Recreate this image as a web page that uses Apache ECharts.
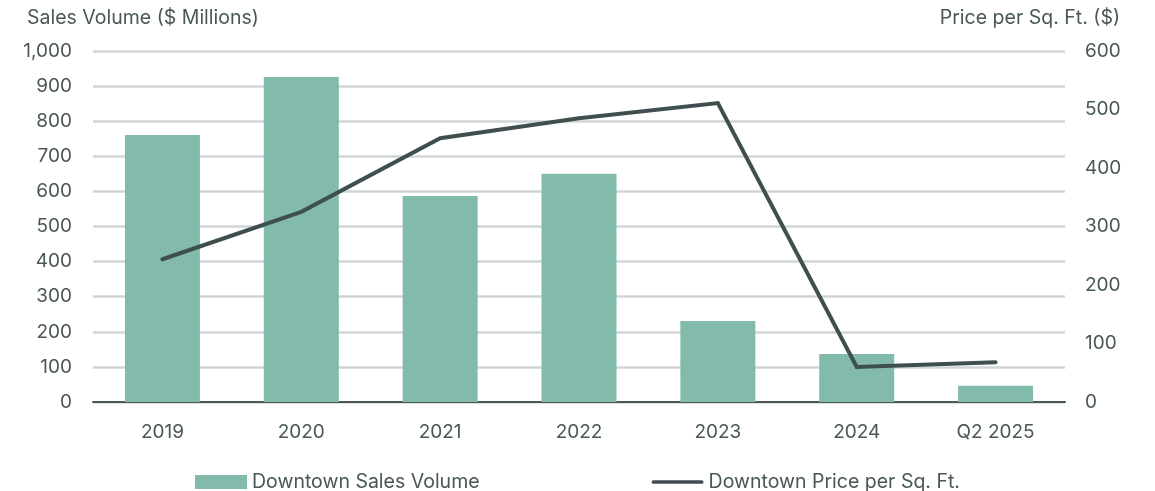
<!DOCTYPE html>
<html>
<head>
<meta charset="utf-8">
<script src="https://cdn.jsdelivr.net/npm/echarts@6/dist/echarts.min.js"></script>
<style>html,body{margin:0;padding:0;background:#fff}#c{width:1155px;height:491px}</style>
</head>
<body>
<div id="c"></div>
<script>
const categories = ['2019','2020','2021','2022','2023','2024','Q2 2025'];
const salesVolume = [761, 926, 587, 650, 231, 137, 46];
const pricePerSqFt = [244, 325, 451, 485, 511, 60, 68];
const leftTicks = [0, 1000, 100];
const rightTicks = [0, 600, 100];

const txt = '#4a5757';
const font = 'Inter';
const chart = echarts.init(document.getElementById('c'));
chart.setOption({
  animation: false,
  textStyle: { fontFamily: font, color: txt },
  grid: { left: 93, right: 90, top: 51, bottom: 89, containLabel: false },
  graphic: [
    { type: 'text', left: 27, top: 8, style: { text: 'Sales Volume ($ Millions)', fontSize: 19.5, fill: txt, fontFamily: font } },
    { type: 'text', right: 35, top: 8, style: { text: 'Price per Sq. Ft. ($)', fontSize: 19.5, fill: txt, fontFamily: font } }
  ],
  legend: {
    top: 467, left: 'center', itemGap: 172, itemWidth: 52, itemHeight: 14,
    textStyle: { fontSize: 19.5, color: txt, fontFamily: font },
    data: [
      { name: 'Downtown Sales Volume', icon: 'rect' },
      { name: 'Downtown Price per Sq. Ft.',
        icon: 'path://M2,0 L54,0 A2,2 0 0 1 54,4 L2,4 A2,2 0 0 1 2,0 Z',
        itemStyle: { color: '#3f4f50' } }
    ]
  },
  xAxis: {
    type: 'category', data: categories,
    axisLine: { lineStyle: { color: '#4a5858', width: 2 } },
    axisTick: { show: false },
    axisLabel: { fontSize: 19, color: txt, margin: 21, fontFamily: font }
  },
  yAxis: [
    {
      type: 'value', min: leftTicks[0], max: leftTicks[1], interval: leftTicks[2],
      axisLine: { show: false }, axisTick: { show: false },
      splitLine: { lineStyle: { color: '#d0d6d6', width: 2.5 } },
      axisLabel: { fontSize: 19, color: txt, margin: 21, fontFamily: font,
        formatter: v => v.toLocaleString('en-US') }
    },
    {
      type: 'value', min: rightTicks[0], max: rightTicks[1], interval: rightTicks[2],
      axisLine: { show: false }, axisTick: { show: false }, splitLine: { show: false },
      axisLabel: { fontSize: 19, color: txt, margin: 20, fontFamily: font }
    }
  ],
  series: [
    {
      name: 'Downtown Sales Volume', type: 'bar', data: salesVolume, yAxisIndex: 0,
      barWidth: 75, itemStyle: { color: '#82bbab' }
    },
    {
      name: 'Downtown Price per Sq. Ft.', type: 'line', data: pricePerSqFt, yAxisIndex: 1,
      symbol: 'none', lineStyle: { color: '#3f4f50', width: 4, cap: 'round', join: 'miter' },
      itemStyle: { color: '#3f4f50' }
    }
  ]
});
</script>
</body>
</html>
